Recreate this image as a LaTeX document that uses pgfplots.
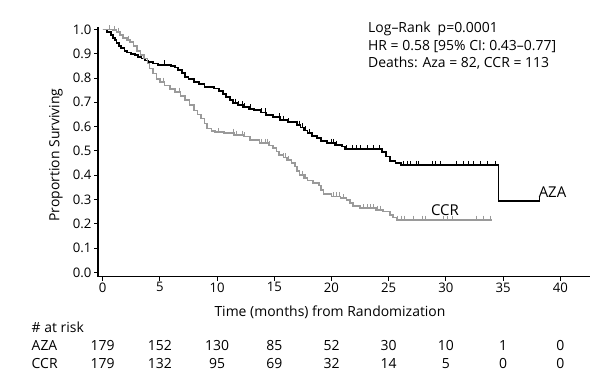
\documentclass[border=0pt]{standalone}
\usepackage{fontspec}
\setmainfont{Open Sans}
\usepackage{pgfplots}
\pgfplotsset{compat=1.18}
\definecolor{ccrgray}{HTML}{9A9A9A}

\pgfplotstableread{
x y
0 1.0
0.4 0.99
0.7 0.978
0.9 0.966
1.05 0.955
1.2 0.944
1.4 0.933
1.6 0.922
1.9 0.911
2.1 0.905
2.5 0.899
2.8 0.894
3.1 0.888
3.4 0.88
3.7 0.872
4.0 0.866
4.4 0.86
4.8 0.855
6.0 0.849
6.3 0.843
6.6 0.832
6.9 0.821
7.2 0.804
7.5 0.795
8.0 0.784
8.4 0.774
8.9 0.763
9.7 0.757
10.2 0.746
10.5 0.735
10.8 0.723
11.1 0.71
11.4 0.698
11.8 0.688
12.3 0.68
12.8 0.674
13.2 0.668
13.8 0.658
14.3 0.648
14.9 0.638
15.5 0.628
16.2 0.618
17.0 0.607
17.3 0.596
17.6 0.584
17.9 0.573
18.3 0.562
18.7 0.552
19.1 0.542
19.6 0.532
20.3 0.525
20.9 0.518
21.2 0.507
24.4 0.495
24.8 0.477
25.1 0.46
25.6 0.451
26.1 0.442
34.6 0.294
38.2 0.294
}\aza

\pgfplotstableread{
x y
5.4 0.855
8.9 0.763
11.6 0.698
11.9 0.688
12.2 0.688
12.4 0.68
12.9 0.674
13.9 0.658
14.2 0.658
15.4 0.638
15.8 0.628
16.2 0.618
17.05 0.607
17.2 0.607
17.45 0.596
17.75 0.584
18.1 0.573
20.0 0.532
20.15 0.532
20.4 0.525
21.3 0.507
21.8 0.507
22.2 0.507
22.5 0.507
23.1 0.507
23.7 0.507
24.2 0.507
26.3 0.442
26.6 0.442
26.9 0.442
27.4 0.442
27.6 0.442
28.8 0.442
29.1 0.442
29.5 0.442
30.9 0.442
31.5 0.442
32.0 0.442
32.4 0.442
33.0 0.442
33.6 0.442
34.3 0.442
38.2 0.294
}\azacens

\pgfplotstableread{
x y
0 1.0
0.9 0.997
1.2 0.99
1.5 0.978
1.8 0.966
2.1 0.957
2.4 0.949
2.7 0.932
3.0 0.912
3.3 0.895
3.6 0.88
3.9 0.86
4.1 0.839
4.4 0.818
4.7 0.797
5.0 0.784
5.4 0.77
5.9 0.755
6.3 0.743
6.8 0.726
7.2 0.709
7.6 0.69
8.0 0.667
8.3 0.65
8.6 0.633
8.9 0.613
9.1 0.593
9.5 0.583
9.8 0.577
10.6 0.573
11.5 0.566
12.3 0.559
12.9 0.545
13.7 0.532
14.5 0.522
14.9 0.511
15.2 0.497
15.4 0.484
15.8 0.473
16.1 0.463
16.5 0.449
16.8 0.435
17.0 0.418
17.2 0.401
17.6 0.388
17.9 0.378
18.4 0.367
18.9 0.357
19.1 0.34
19.3 0.322
20.0 0.312
20.8 0.305
21.3 0.298
21.6 0.285
21.9 0.274
22.5 0.264
23.9 0.257
24.5 0.25
25.1 0.237
25.4 0.226
25.7 0.216
34.0 0.216
}\ccr

\pgfplotstableread{
x y
0.6 1.0
1.05 0.997
1.4 0.99
2.2 0.957
5.3 0.784
6.7 0.743
10.1 0.577
11.4 0.573
11.7 0.566
12.2 0.566
12.4 0.559
13.9 0.532
14.2 0.532
14.35 0.532
14.6 0.522
15.8 0.473
15.95 0.473
16.2 0.463
16.5 0.449
17.0 0.418
17.2 0.401
17.45 0.401
17.7 0.388
20.2 0.312
20.45 0.312
20.7 0.312
21.0 0.305
22.8 0.264
23.1 0.264
23.4 0.264
23.7 0.264
24.0 0.257
24.3 0.257
25.8 0.216
26.1 0.216
26.4 0.216
27.2 0.216
27.9 0.216
28.2 0.216
29.8 0.216
30.1 0.216
30.6 0.216
32.7 0.216
33.3 0.216
33.9 0.216
}\ccrcens

\begin{document}
\begin{tikzpicture}[x=1bp,y=1bp]
\path[use as bounding box] (0,0) rectangle (602,384);
\begin{axis}[
  at={(98bp,107.5bp)}, anchor=south west, scale only axis,
  width=492bp, height=249bp,
  xmin=-0.41, xmax=42.6, ymin=-0.017, ymax=1.008,
  axis x line=bottom, axis y line=left,
  axis line style={line width=1.5bp, -},
  xtick={0,5,10,15,20,25,30,35,40},
  ytick={0,0.1,0.2,0.3,0.4,0.5,0.6,0.7,0.8,0.9,1.0},
  yticklabel style={/pgf/number format/fixed, /pgf/number format/fixed zerofill, /pgf/number format/precision=1, xshift=1bp},
  /pgf/number format/assume math mode=true,
  tick style={black, line width=0.9bp},
  tick align=outside, major tick length=4bp,
  tick label style={font=\fontsize{13.2}{15}\selectfont},
  xticklabel style={yshift=1.5bp},
  clip=false,
]
\addplot[const plot, black, line width=1.8bp] table {\aza};
\addplot[const plot, ccrgray, line width=1.6bp] table {\ccr};
\addplot[only marks, mark=|, mark size=2.2bp, black, mark options={yshift=2bp, line width=0.7bp}] table {\azacens};
\addplot[only marks, mark=|, mark size=2.2bp, ccrgray, mark options={yshift=2bp, line width=0.7bp}] table {\ccrcens};
\end{axis}
\begin{scope}[every node/.style={font=\fontsize{14}{16}\selectfont, inner sep=0pt}]
\node[anchor=base] at (330,67.5) {Time (months) from Randomization};
\node[rotate=90] at (56,229) {Proportion Surviving};
\node[anchor=base west] at (368,352) {Log--Rank\enspace p=0.0001};
\node[anchor=base west] at (368,333.5) {HR = 0.58 [95\% CI: 0.43--0.77]};
\node[anchor=base west] at (368,317) {Deaths: Aza = 82, CCR = 113};
\node[font=\fontsize{15}{17}\selectfont] at (552.5,192) {AZA};
\node[font=\fontsize{15}{17}\selectfont] at (445,174) {CCR};
\node[anchor=base west] at (31.5,52) {\# at risk};
\node[anchor=base west] at (31.5,33.5) {AZA};
\node[anchor=base west] at (31.5,16) {CCR};
\foreach \t/\a/\c in {0/179/179,5/152/132,10/130/95,15/85/69,20/52/32,25/30/14,30/10/5,35/1/0,40/0/0}{
  \node[anchor=base] at ({102.7+11.44*\t},33.5) {\a};
  \node[anchor=base] at ({102.7+11.44*\t},16) {\c};
}
\end{scope}
\end{tikzpicture}
\end{document}
